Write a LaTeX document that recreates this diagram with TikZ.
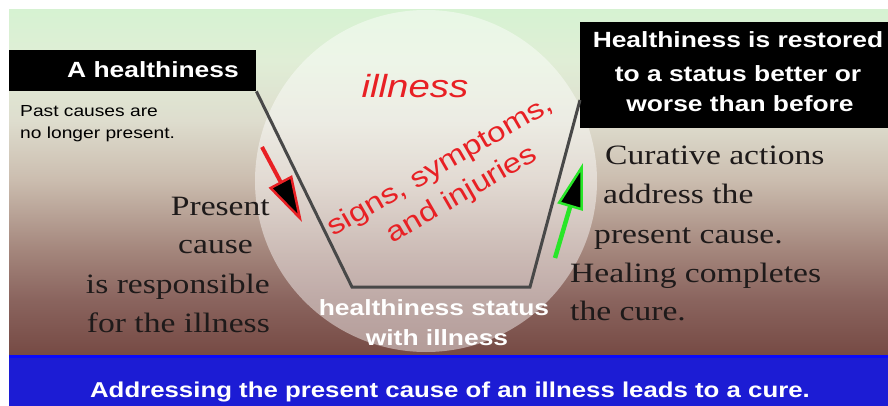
\documentclass[tikz,border=0pt]{standalone}
\usepackage{fontspec}
\usetikzlibrary{arrows.meta}
\newfontfamily\sansS{Liberation Sans}[FakeStretch=1.2]
\newfontfamily\serifS{Liberation Serif}[FakeStretch=1.2]
\definecolor{bgA}{RGB}{214,242,210}
\definecolor{bgB}{RGB}{224,238,214}
\definecolor{bgC}{RGB}{222,221,206}
\definecolor{bgD}{RGB}{203,189,175}
\definecolor{bgE}{RGB}{164,134,124}
\definecolor{bgF}{RGB}{138,100,94}
\definecolor{bgG}{RGB}{118,74,68}
\definecolor{bandblue}{RGB}{28,28,212}
\definecolor{bandtop}{RGB}{10,10,250}
\definecolor{txtred}{RGB}{232,32,36}
\definecolor{arrgreen}{RGB}{40,230,40}
\definecolor{trapgray}{RGB}{72,72,72}
\definecolor{serifink}{RGB}{30,26,26}
\pgfdeclareverticalshading{bgsh}{100bp}{color(0bp)=(bgG); color(25bp)=(bgG); color(33bp)=(bgF); color(40.2bp)=(bgE); color(50.4bp)=(bgD); color(59bp)=(bgC); color(67.7bp)=(bgB); color(75bp)=(bgA); color(100bp)=(bgA)}
\begin{document}
\begin{tikzpicture}[x=1pt,y=-1pt,
  blackbox/.style={fill=black, draw=none, inner sep=0pt, anchor=north west},
  headtxt/.style={font={\sansS\bfseries\fontsize{22}{26}\selectfont}, text=white, inner sep=0pt, anchor=base},
  smalltxt/.style={font={\sansS\fontsize{16}{19}\selectfont}, text=black, inner sep=0pt, anchor=base west},
  redtxt/.style={text=txtred, inner sep=0pt},
  symptxt/.style={text=txtred, inner sep=0pt, font={\sansS\fontsize{27.5}{33}\selectfont}, anchor=base, rotate=30},
  whitetxt/.style={font={\sansS\bfseries\fontsize{22}{26}\selectfont}, text=white, inner sep=0pt, anchor=base},
  seriftxt/.style={font={\serifS\fontsize{28}{32}\selectfont}, text=serifink, inner sep=0pt},
  bandtxt/.style={font={\sansS\bfseries\fontsize{21.5}{26}\selectfont}, text=white, inner sep=0pt, anchor=base},
  trapline/.style={draw=trapgray, line width=3pt, line join=miter},
  redarrow/.style={draw=txtred, line width=4pt, -{Triangle[length=46pt,width=26pt,fill=black,line width=2.5pt]}},
  greenarrow/.style={draw=arrgreen, line width=4.5pt, -{Triangle[length=46pt,width=26pt,fill=black,line width=2.5pt]}}
]
\useasboundingbox (0,0) rectangle (888,406);
\fill[white] (0,0) rectangle (888,406);
% background
\shade[shading=bgsh] (9,10) rectangle (888,355);
% blue band
\fill[bandblue] (9,355) rectangle (888,406);
\fill[bandtop] (9,355) rectangle (888,358);
% translucent circle
\fill[white, opacity=0.45] (426,181) circle[radius=171pt];
% black boxes
\node[blackbox, minimum width=247pt, minimum height=41pt] (lbox) at (9,50) {};
\node[blackbox, minimum width=308pt, minimum height=106pt] (rbox) at (580,22) {};
% trapezoid curve
\coordinate (tbl) at (352,287);
\coordinate (tbr) at (530,287);
\coordinate (trt) at (580,100);
\draw[trapline] (lbox.south east) -- (tbl) -- (tbr) -- (trt);
% arrows
\coordinate (ra1) at (262,147);
\coordinate (ra2) at (302,222);
\draw[redarrow] (ra1) -- (ra2);
\coordinate (ga1) at (555,258);
\coordinate (ga2) at (583,163);
\draw[greenarrow] (ga1) -- (ga2);
% box texts
\node[headtxt, anchor=base east] (lboxt) at (239,78) {A healthiness};
\node[headtxt] (rbox1) at (738,48) {Healthiness is restored};
\node[headtxt] (rbox2) at (738,82) {to a status better or};
\node[headtxt] (rbox3) at (740,112) {worse than before};
\node[smalltxt] (past1) at (20,117) {Past causes are};
\node[smalltxt] (past2) at (20,139) {no longer present.};
% circle texts
\node[redtxt, font={\sansS\itshape\fontsize{32}{36}\selectfont}, anchor=base] (ill) at (415,98) {illness};
\node[symptxt] (symp1) at (444,173) {signs, symptoms,};
\node[symptxt] (symp2) at (466,201) {and injuries};
\node[whitetxt] (hs1) at (434,315) {healthiness status};
\node[whitetxt] (hs2) at (437,345) {with illness};
% left serif text
\node[seriftxt, anchor=base east] (lc1) at (270,215) {Present};
\node[seriftxt, anchor=base east] (lc2) at (253,253) {cause};
\node[seriftxt, anchor=base east] (lc3) at (270,293) {is responsible};
\node[seriftxt, anchor=base east] (lc4) at (270,332) {for the illness};
% right serif text
\node[seriftxt, anchor=base west] (rc1) at (605,165) {Curative actions};
\node[seriftxt, anchor=base west] (rc2) at (603,204) {address the};
\node[seriftxt, anchor=base west] (rc3) at (594,243) {present cause.};
\node[seriftxt, anchor=base west] (rc4) at (570,282) {Healing completes};
\node[seriftxt, anchor=base west] (rc5) at (570,320) {the cure.};
% band text
\node[bandtxt] (band) at (450,397) {Addressing the present cause of an illness leads to a cure.};
\end{tikzpicture}
\end{document}
